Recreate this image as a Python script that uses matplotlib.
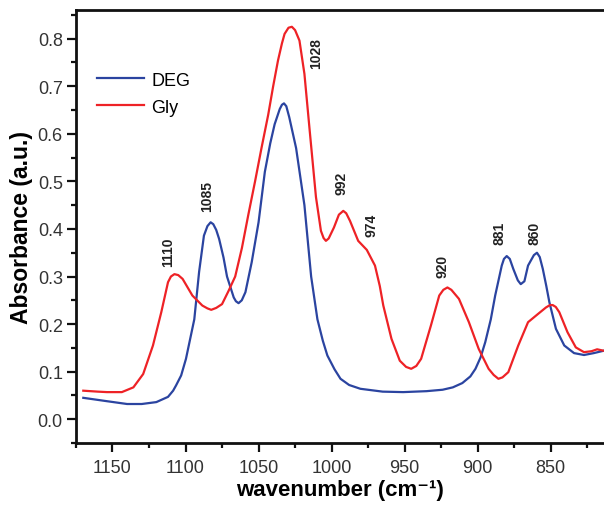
import numpy as np
import matplotlib.pyplot as plt

plt.rcParams['font.family'] = ['Liberation Sans', 'DejaVu Sans']

# DEG spectrum (wavenumber, absorbance)
deg_x = [1170, 1154, 1140, 1130, 1120, 1112, 1108.5, 1106.5, 1103, 1099.7, 1094,
         1090.7, 1087.4, 1085, 1082.8, 1081, 1079, 1077, 1074, 1071.6, 1067,
         1065.5, 1063.7, 1061.5, 1059, 1054.7, 1050, 1045.7, 1042, 1039, 1035.5,
         1034, 1032.6, 1031, 1029, 1024.3, 1018.6, 1014, 1009.7, 1006, 1002.9,
         998, 993.9, 988, 980.3, 965, 951, 935, 924, 917, 910.5, 905, 901.5,
         898, 894.8, 891, 888, 883.5, 882, 880.1, 878, 875.6, 872.5, 870.5,
         868, 865.5, 861.5, 859.4, 857.5, 855.4, 853, 850.9, 846.4, 840.7, 834,
         827.2, 820.5, 813.7]
deg_y = [0.045, 0.038, 0.032, 0.032, 0.036, 0.047, 0.06, 0.071, 0.092, 0.127, 0.21,
         0.31, 0.386, 0.406, 0.414, 0.41, 0.398, 0.379, 0.34, 0.30, 0.256,
         0.248, 0.244, 0.25, 0.267, 0.33, 0.414, 0.52, 0.58, 0.62, 0.652,
         0.661, 0.664, 0.658, 0.635, 0.57, 0.45, 0.30, 0.21, 0.165, 0.134,
         0.105, 0.085, 0.072, 0.064, 0.058, 0.057, 0.059, 0.062, 0.067, 0.076, 0.09, 0.106,
         0.13, 0.162, 0.21, 0.26, 0.323, 0.337, 0.343, 0.337, 0.316, 0.292, 0.284,
         0.29, 0.323, 0.345, 0.35, 0.341, 0.316, 0.28, 0.246, 0.19, 0.155, 0.139,
         0.135, 0.139, 0.144]

# Gly spectrum
gly_x = [1170, 1160, 1153.8, 1143.6, 1135.7, 1129, 1122.3, 1116.6, 1112, 1110,
         1107.6, 1105, 1102, 1095.3, 1088.5, 1085, 1082.4, 1079, 1075, 1070.5, 1066,
         1061.4, 1057, 1052.4, 1048, 1043.4, 1040, 1036.7, 1034, 1032.2, 1029.5,
         1027.2, 1025, 1022, 1018.6, 1015, 1010.7, 1007.3, 1005.5, 1003.9, 1002,
         998.4, 995, 992, 990, 987.4, 981.8, 975.9, 970.3, 967, 964.6, 959, 953.3,
         949, 945.5, 942, 938.7, 932, 926.3, 923.5, 920.7, 918, 912.8, 906, 899.3,
         892.5, 889, 885.8, 883, 879, 872.2, 865.5, 858.8, 853.2, 850.5, 848.6,
         846.5, 844.1, 838.5, 832.8, 827.2, 822, 818.2, 813.7]
gly_y = [0.06, 0.058, 0.057, 0.057, 0.067, 0.095, 0.155, 0.225, 0.288, 0.300,
         0.305, 0.303, 0.295, 0.26, 0.239, 0.233, 0.23, 0.234, 0.242, 0.27, 0.30,
         0.36, 0.43, 0.50, 0.57, 0.64, 0.70, 0.754, 0.79, 0.81, 0.823,
         0.825, 0.818, 0.796, 0.726, 0.607, 0.467, 0.396, 0.381, 0.375, 0.38,
         0.403, 0.43, 0.438, 0.433, 0.417, 0.375, 0.356, 0.323, 0.28, 0.239, 0.169, 0.123,
         0.11, 0.106, 0.112, 0.127, 0.197, 0.26, 0.272, 0.277, 0.272, 0.253, 0.204, 0.148,
         0.106, 0.093, 0.085, 0.088, 0.099, 0.155, 0.204, 0.221, 0.235, 0.24, 0.24,
         0.236, 0.225, 0.183, 0.151, 0.141, 0.143, 0.147, 0.144]

# peak labels
peak_labels = ['1110', '1085', '1028', '992', '974', '920', '881', '860']
peak_x = [1112, 1085, 1010.8, 993, 972.5, 924, 885.3, 861.4]
peak_y = [0.354, 0.47, 0.771, 0.498, 0.41, 0.323, 0.393, 0.393]

fig = plt.figure(figsize=(6.04, 5.06), dpi=100)
ax = fig.add_axes([0.1258, 0.1225, 0.8742, 0.8555])

ax.plot(deg_x, deg_y, color='#2b44a0', lw=1.6, label='DEG')
ax.plot(gly_x, gly_y, color='#ee2226', lw=1.6, label='Gly')

for lab, px, py in zip(peak_labels, peak_x, peak_y):
    ax.text(px, py, lab, rotation=90, ha='center', va='center',
            fontsize=10, fontweight='bold', color='#222222')

ax.set_xlim(1170, 813.5)
ax.set_ylim(-0.05, 0.86)
ax.set_xticks(np.arange(1150, 849, -50))
ax.set_xticks(np.arange(1175, 814, -25), minor=True)
ax.set_yticks(np.arange(0, 0.81, 0.1))
ax.set_yticks(np.arange(-0.05, 0.86, 0.05), minor=True)
ax.yaxis.set_major_formatter(plt.FormatStrFormatter('%.1f'))

ax.spines['right'].set_visible(False)
for s in ['left', 'bottom', 'top']:
    ax.spines[s].set_linewidth(2.0)
    ax.spines[s].set_color('#111111')
ax.tick_params(which='both', direction='out', width=1.6, colors='#111111',
               labelcolor='#333333', labelsize=13, top=False, right=False)
ax.tick_params(which='major', length=6.5)
ax.tick_params(which='minor', length=3.5)
ax.tick_params(axis='y', pad=3)
ax.tick_params(axis='x', pad=5)

ax.set_xlabel('wavenumber (cm\u207b\u00b9)', fontsize=16, fontweight='bold', labelpad=2)
ax.set_ylabel('Absorbance (a.u.)', fontsize=16.5, fontweight='bold', labelpad=3)

ax.legend(loc='upper left', bbox_to_anchor=(0.04, 0.858), frameon=False,
          fontsize=13, handlelength=2.6, handletextpad=0.4, labelspacing=0.55,
          borderpad=0, borderaxespad=0)

fig.savefig('out.png', dpi=100)
